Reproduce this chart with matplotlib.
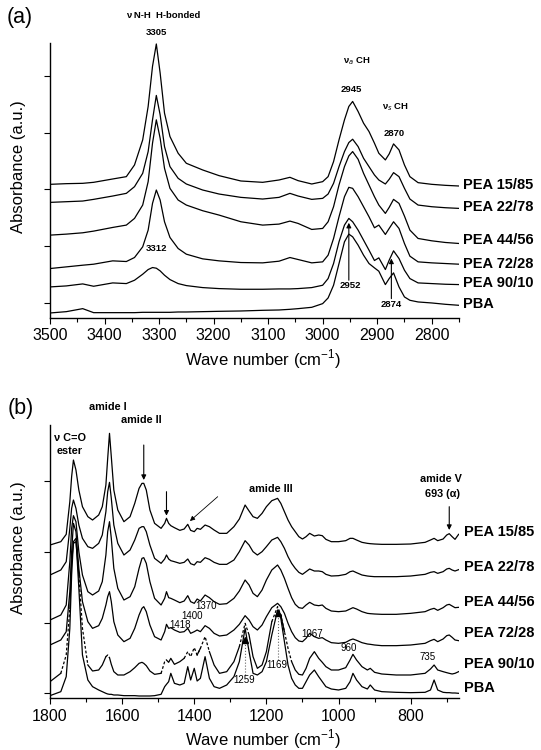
import numpy as np
import matplotlib.pyplot as plt
from matplotlib.ticker import MultipleLocator

plt.rcParams['font.family'] = ['Liberation Sans', 'DejaVu Sans']
plt.rcParams['mathtext.fontset'] = 'custom'
plt.rcParams['mathtext.rm'] = 'Liberation Sans'
plt.rcParams['mathtext.bf'] = 'Liberation Sans:bold'

# ---- panel (a): 3500-2750 cm-1, stacked spectra (a.u.) ----
wn_a = [3500, 3470, 3440, 3420, 3385, 3360, 3345, 3330, 3320, 3312,
        3305, 3298, 3290, 3280, 3265, 3250, 3220, 3190, 3150, 3110,
        3080, 3060, 3045, 3020, 3000, 2990, 2980, 2970, 2960, 2952,
        2945, 2935, 2925, 2915, 2905, 2897, 2885, 2878, 2870, 2860,
        2850, 2840, 2825, 2800, 2775, 2750]
a_15_85 = [400, 402, 403, 406, 416, 423, 458, 533, 633, 753,
           820, 733, 613, 543, 493, 463, 443, 426, 410, 406,
           413, 421, 411, 401, 408, 423, 468, 533, 593, 633,
           648, 618, 583, 558, 523, 493, 473, 491, 521, 503,
           458, 423, 405, 400, 397, 395]
a_22_78 = [346, 348, 350, 355, 365, 373, 393, 433, 498, 593,
           666, 608, 513, 453, 418, 401, 383, 371, 361, 356,
           361, 373, 365, 355, 358, 371, 403, 453, 498, 525,
           535, 513, 478, 453, 428, 413, 401, 415, 435, 423,
           388, 356, 338, 333, 330, 328]
a_44_56 = [248, 251, 255, 260, 271, 278, 298, 338, 408, 523,
           593, 538, 448, 388, 353, 338, 321, 308, 288, 278,
           281, 290, 283, 265, 268, 288, 333, 398, 453, 485,
           498, 475, 433, 398, 363, 338, 313, 331, 355, 343,
           305, 263, 238, 231, 226, 223]
a_72_28 = [148, 153, 158, 161, 171, 169, 181, 213, 263, 343,
           383, 353, 288, 241, 208, 191, 177, 171, 166, 165,
           170, 181, 175, 165, 168, 188, 238, 303, 363, 391,
           388, 363, 333, 303, 270, 278, 250, 268, 288, 268,
           223, 185, 168, 165, 163, 161]
a_90_10 = [93, 96, 102, 95, 105, 103, 113, 131, 145, 151,
           149, 141, 128, 115, 103, 97, 91, 88, 86, 86,
           87, 87, 88, 91, 98, 118, 163, 228, 278, 298,
           288, 263, 233, 203, 172, 180, 145, 173, 201, 178,
           143, 118, 105, 103, 101, 100]
a_pba = [15, 19, 28, 16, 16, 16, 16, 17, 17, 17,
         17, 17, 17, 17, 18, 18, 19, 20, 21, 23,
         24, 26, 28, 32, 43, 60, 98, 163, 228, 251,
         243, 218, 188, 163, 150, 140, 100, 118, 135, 93,
         63, 53, 48, 45, 41, 38]

# ---- panel (b): 1800-667 cm-1 ----
wn_b = [1800, 1770, 1755, 1745, 1740, 1735, 1728, 1720, 1710, 1695,
        1682, 1665, 1655, 1645, 1640, 1635, 1630, 1623, 1612, 1595,
        1578, 1565, 1553, 1545, 1540, 1533, 1523, 1510, 1492, 1482,
        1477, 1471, 1465, 1455, 1440, 1428, 1418, 1410, 1400, 1392,
        1383, 1370, 1358, 1345, 1330, 1310, 1290, 1275, 1259, 1248,
        1237, 1225, 1212, 1200, 1185, 1169, 1160, 1150, 1140, 1130,
        1120, 1110, 1100, 1090, 1080, 1067, 1055, 1045, 1035, 1020,
        1000, 980, 968, 960, 950, 935, 920, 912, 900, 880,
        840, 800, 760, 745, 735, 725, 710, 700, 693, 685,
        677, 667]
b_15_85 = [460, 470, 492, 590, 665, 715, 685, 625, 575, 545,
           535, 550, 575, 640, 720, 795, 725, 625, 565, 530,
           545, 585, 630, 645, 645, 625, 565, 525, 510, 525,
           540, 525, 518, 512, 504, 508, 522, 504, 500, 510,
           507, 520, 515, 505, 495, 495, 515, 538, 580, 562,
           545, 540, 555, 575, 593, 600, 585, 560, 535, 515,
           500, 485, 478, 485, 495, 487, 490, 488, 477, 470,
           470, 473, 480, 480, 475, 468, 465, 464, 463, 462,
           462, 463, 468, 475, 480, 473, 478, 490, 494, 485,
           477, 492]
b_22_78 = [370, 385, 410, 510, 570, 595, 570, 520, 480, 455,
           450, 465, 490, 560, 620, 648, 600, 520, 465, 430,
           445, 475, 510, 515, 515, 500, 460, 420, 405, 418,
           430, 418, 413, 410, 405, 408, 418, 404, 400, 410,
           408, 422, 417, 408, 402, 402, 415, 440, 473, 460,
           440, 430, 440, 455, 475, 483, 470, 450, 425, 405,
           390, 378, 372, 380, 388, 382, 382, 380, 372, 367,
           368, 372, 380, 382, 377, 370, 367, 366, 365, 365,
           365, 367, 372, 378, 380, 375, 380, 388, 390, 385,
           382, 386]
b_44_56 = [235, 250, 280, 410, 510, 548, 530, 440, 370, 320,
           310, 322, 350, 430, 500, 530, 480, 390, 330, 295,
           305, 335, 390, 420, 422, 405, 350, 300, 280, 300,
           320, 302, 300, 295, 287, 292, 308, 290, 285, 298,
           292, 310, 302, 290, 282, 284, 300, 322, 355, 340,
           315, 305, 325, 355, 385, 400, 385, 360, 330, 302,
           282, 272, 270, 280, 288, 280, 278, 280, 270, 262,
           260, 262, 268, 272, 268, 260, 255, 254, 253, 252,
           252, 255, 260, 267, 270, 264, 272, 280, 282, 277,
           272, 273]
b_72_28 = [160, 175, 200, 320, 440, 525, 500, 390, 290, 230,
           210, 218, 240, 280, 305, 320, 290, 230, 190, 170,
           180, 210, 250, 270, 275, 260, 220, 185, 175, 200,
           222, 210, 212, 205, 198, 200, 210, 195, 200, 205,
           200, 218, 210, 195, 187, 190, 205, 222, 248, 235,
           215, 205, 220, 245, 272, 285, 275, 255, 225, 200,
           182, 172, 170, 180, 195, 185, 180, 182, 175, 167,
           165, 168, 175, 178, 174, 167, 163, 162, 160, 158,
           158, 160, 165, 173, 177, 170, 178, 188, 190, 183,
           175, 173]
b_90_10 = [50, 75, 130, 270, 410, 465, 470, 370, 210, 100,
           82, 85, 100, 125, 130, 122, 102, 80, 70, 70,
           80, 92, 105, 108, 105, 98, 82, 72, 75, 110,
           115, 108, 120, 102, 110, 120, 140, 125, 152, 130,
           150, 185, 140, 100, 75, 80, 110, 155, 225, 190,
           125, 90, 100, 140, 230, 275, 250, 200, 150, 110,
           85, 72, 70, 90, 120, 140, 120, 108, 95, 85,
           85, 92, 115, 132, 115, 95, 85, 90, 78, 73,
           70, 70, 75, 88, 100, 85, 80, 77, 75, 73,
           75, 80]
b_pba = [8, 20, 65, 210, 370, 470, 480, 330, 130, 55,
         35, 25, 20, 15, 13, 12, 12, 10, 10, 8,
         8, 8, 7, 7, 7, 7, 7, 8, 12, 35,
         42, 50, 75, 45, 40, 45, 95, 55, 90, 52,
         60, 125, 60, 35, 30, 40, 65, 110, 210, 140,
         75, 70, 80, 110, 190, 265, 240, 170, 100, 60,
         40, 30, 30, 50, 70, 85, 65, 50, 35, 28,
         25, 30, 50, 75, 55, 35, 28, 40, 25, 20,
         18, 17, 18, 25, 55, 25, 18, 17, 17, 16,
         16, 15]
# parts of the PEA 90/10 trace that are drawn dashed
dashed_90_10 = [(1770, 1745), (1720, 1695), (1645, 1635), (1492, 1477),
                (1428, 1392), (1383, 1358), (1275, 1248), (1185, 1160),
                (1150, 1130)]

names = ['PEA 15/85', 'PEA 22/78', 'PEA 44/56', 'PEA 72/28', 'PEA 90/10', 'PBA']
label_y_a = [398, 331, 233, 163, 105, 41]
label_y_b = [498, 393, 290, 195, 104, 30]


def style_axes(ax):
    for s in ['top', 'right']:
        ax.spines[s].set_visible(False)
    for s in ['left', 'bottom']:
        ax.spines[s].set_linewidth(1.0)
    ax.tick_params(which='both', direction='out', width=0.8, labelsize=11.5)
    ax.tick_params(which='major', length=4)
    ax.tick_params(which='minor', length=3)
    ax.tick_params(axis='y', which='both', labelleft=False, length=4)
    ax.text(0.52, -0.15, 'Wave number (cm$^{-1}$)', transform=ax.transAxes,
            ha='center', va='center', fontsize=12)
    ax.text(-0.076, 0.55, 'Absorbance (a.u.)', transform=ax.transAxes,
            ha='center', va='center', rotation=90, fontsize=12)


fig = plt.figure(figsize=(5.41, 7.5), dpi=100)
axA = fig.add_axes([0.0924, 0.576, 0.756, 0.3667])
axB = fig.add_axes([0.0924, 0.0689, 0.756, 0.3644])

lw = 0.9
for y in [a_15_85, a_22_78, a_44_56, a_72_28, a_90_10, a_pba]:
    axA.plot(wn_a, y, color='k', lw=lw)
axA.set_xlim(3500, 2750)
axA.set_ylim(0, 823)
axA.xaxis.set_major_locator(MultipleLocator(100))
axA.xaxis.set_minor_locator(MultipleLocator(50))
axA.set_yticks([45, 215, 385, 555, 725])
style_axes(axA)

for name, yl in zip(names, label_y_a):
    axA.text(1.01, yl, name, transform=axA.get_yaxis_transform(), ha='left',
             va='center', fontsize=10.5, fontweight='bold', clip_on=False)

bold = dict(fontsize=6.8, fontweight='bold', ha='center', va='center')
axA.text(3292, 905, 'ν N-H  H-bonded', **bold)
axA.text(3304, 853, '3305', **bold)
axA.text(2937, 768, 'ν$_{a}$ CH', **bold)
axA.text(2948, 685, '2945', **bold)
axA.text(2867, 631, 'ν$_{s}$ CH', **bold)
axA.text(2868, 551, '2870', **bold)
axA.text(3305, 208, '3312', **bold)
axA.text(2950, 98, '2952', **bold)
axA.text(2875, 41, '2874', **bold)
arr = dict(arrowstyle='-|>', lw=0.8, color='k', mutation_scale=7,
           shrinkA=0, shrinkB=0)
axA.annotate('', xy=(2952, 285), xytext=(2952, 113), arrowprops=arr)
axA.annotate('', xy=(2874, 178), xytext=(2874, 58), arrowprops=arr)

# panel (b)
series_b = [b_15_85, b_22_78, b_44_56, b_72_28, b_90_10, b_pba]
x_b = np.asarray(wn_b, float)
for name, y in zip(names, series_b):
    y = np.asarray(y, float)
    if name == 'PEA 90/10':
        solid = y.copy()
        dashed = np.full_like(y, np.nan)
        for hi, lo in dashed_90_10:
            dashed[(x_b <= hi) & (x_b >= lo)] = y[(x_b <= hi) & (x_b >= lo)]
            solid[(x_b < hi) & (x_b > lo)] = np.nan
        axB.plot(x_b, solid, color='k', lw=lw)
        axB.plot(x_b, dashed, color='k', lw=lw, ls=(0, (2.2, 1.6)))
    else:
        axB.plot(x_b, y, color='k', lw=lw)
axB.set_xlim(1800, 666)
axB.set_ylim(0, 820)
axB.xaxis.set_major_locator(MultipleLocator(200))
axB.xaxis.set_minor_locator(MultipleLocator(100))
axB.set_yticks([15, 227, 440, 652])
style_axes(axB)

for name, yl in zip(names, label_y_b):
    axB.text(1.012, yl, name, transform=axB.get_yaxis_transform(), ha='left',
             va='center', fontsize=10.5, fontweight='bold', clip_on=False)

bold_b = dict(bold, fontsize=7.8)
axB.text(1745, 782, 'ν C=O', **bold_b)
axB.text(1745, 742, 'ester', **bold_b)
axB.text(1641, 875, 'amide I', **bold_b)
axB.text(1546, 835, 'amide II', **bold_b)
axB.text(1189, 628, 'amide III', **bold_b)
axB.text(715, 658, 'amide V', **bold_b)
axB.text(711, 612, '693 (α)', **bold_b)
reg = dict(fontsize=7, ha='center', va='center')
axB.text(1440, 220, '1418', **reg)
axB.text(1407, 246, '1400', **reg)
axB.text(1368, 278, '1370', **reg)
axB.text(1073, 192, '1067', **reg)
axB.text(971, 150, '960', **reg)
axB.text(754, 125, '735', **reg)
axB.text(1263, 55, '1259', **reg)
axB.text(1172, 100, '1169', **reg)

axB.annotate('', xy=(1540, 655), xytext=(1540, 760), arrowprops=arr)
axB.annotate('', xy=(1477, 548), xytext=(1477, 620), arrowprops=arr)
axB.annotate('', xy=(1412, 532), xytext=(1335, 605),
             arrowprops=dict(arrowstyle='-|>', lw=0.6, color='k',
                             mutation_scale=7, shrinkA=0, shrinkB=0))
axB.annotate('', xy=(693, 505), xytext=(693, 575), arrowprops=arr)
for xm, y0, y1 in [(1259, 70, 175), (1169, 115, 255)]:
    axB.plot([xm, xm], [y0, y1], color='0.4', lw=0.8, ls=':')
    axB.plot([xm], [y1], marker='^', color='k', ms=4)

fig.text(20 / 541, 1 - 18 / 750, '(a)', fontsize=15.5, ha='center', va='center')
fig.text(21 / 541, 1 - 408 / 750, '(b)', fontsize=15.5, ha='center', va='center')

fig.savefig('out.png', dpi=100)
